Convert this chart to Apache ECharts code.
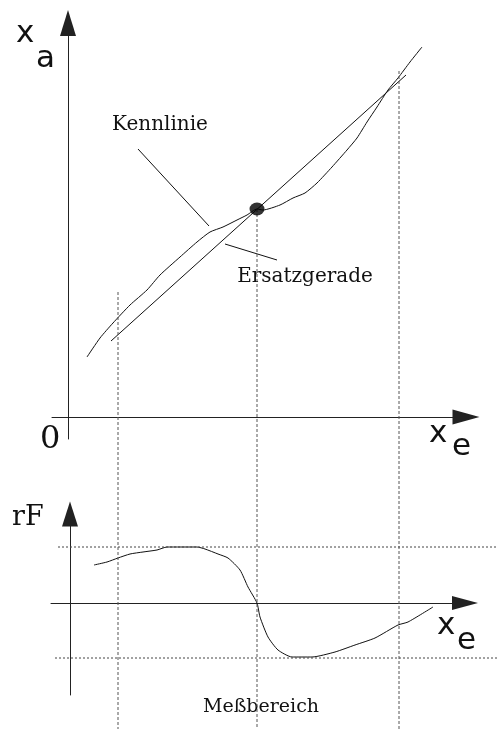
<!DOCTYPE html>
<html>
<head>
<meta charset="utf-8">
<script src="https://cdn.jsdelivr.net/npm/echarts@6/dist/echarts.min.js"></script>
<style>
  html, body { margin: 0; padding: 0; background: #ffffff; }
  #main { width: 498px; height: 729px; }
</style>
</head>
<body>
<div id="main"></div>
<script>
// Kennlinie x_a(x_e), oberes Diagramm
var kennX = [1.9, 3.2, 4.5, 6.2, 7.9, 9.2, 11.2, 12.9, 14.2, 15.5, 16.9, 17.9, 18.9, 19.5, 21.2, 22.5, 23.7, 24.9, 26.4, 27.9, 28.9, 29.9, 30.9, 32.0, 33.0, 34.2, 35.4];
var kennY = [6.0, 7.9, 9.4, 11.2, 12.7, 14.2, 16.0, 17.5, 18.5, 19.0, 19.7, 20.2, 20.8, 20.7, 21.2, 21.9, 22.4, 23.4, 25.0, 26.7, 27.9, 29.5, 31.0, 32.7, 33.9, 35.5, 37.0];
// Ersatzgerade
var geradeX = [4.3, 33.8];
var geradeY = [7.6, 34.2];
// Arbeitspunkt
var punktX = 18.9, punktY = 20.8;
// Messbereich (Grenzen + Arbeitspunkt)
var bereichX = [5.0, 18.9, 33.1];
var bereichOben = [12.5, 20.8, 34.6];
// relativer Fehler rF, unteres Diagramm
var rfX = [2.4, 3.7, 4.8, 6.0, 7.3, 8.7, 9.7, 12.7, 13.5, 14.8, 15.8, 17.0, 17.8, 18.7, 19.0, 19.8, 20.8, 22.2, 24.2, 26.5, 28.5, 30.5, 32.8, 33.8, 36.3];
var rfY = [3.8, 4.1, 4.5, 4.9, 5.1, 5.3, 5.6, 5.6, 5.4, 4.9, 4.5, 3.3, 1.6, 0, -1.4, -3.4, -4.7, -5.4, -5.4, -4.9, -4.2, -3.5, -2.2, -1.9, -0.4];
var rfGrenzen = [5.6, -5.5];
// Hilfslinien zu den Beschriftungen
var kennPfeil = [[7.0, 26.8], [14.1, 19.1]];
var geradePfeil = [[15.7, 17.3], [20.9, 15.7]];

function zip(xs, ys) {
  var out = [];
  for (var i = 0; i < xs.length; i++) {
    out.push([xs[i], ys[i]]);
  }
  return out;
}

var myChart = echarts.init(document.getElementById("main"));

var axisOn = function(min, max, idx, arrow) {
  return {
    type: "value",
    gridIndex: idx,
    min: min,
    max: max,
    axisLine: {
      show: true,
      onZero: true,
      symbol: ["none", "triangle"],
      symbolSize: arrow,
      lineStyle: { color: "#222", width: 1 }
    },
    axisTick: { show: false },
    axisLabel: { show: false },
    splitLine: { show: false }
  };
};
var axisOff = function(min, max, idx) {
  return {
    type: "value",
    gridIndex: idx,
    min: min,
    max: max,
    show: false,
    splitLine: { show: false }
  };
};

var vertikal = [];
for (var i = 0; i < bereichX.length; i++) {
  vertikal.push({
    type: "line",
    xAxisIndex: 2,
    yAxisIndex: 2,
    data: [[bereichX[i], bereichOben[i]], [bereichX[i], -31.2]],
    showSymbol: false,
    silent: true,
    lineStyle: { color: "#555", width: 1, type: [3, 2] }
  });
}

var font = "DejaVu Serif";
var option = {
  backgroundColor: "#ffffff",
  animation: false,
  grid: [
    { left: 52, right: 32, top: 23, bottom: 290, outerBoundsMode: "none" },
    { left: 51, right: 33, top: 514, bottom: 34, outerBoundsMode: "none" },
    { left: 0, right: 0, top: 0, bottom: 0, outerBoundsMode: "none" },
    { left: 0, right: 0, top: 514, bottom: 34, outerBoundsMode: "none" }
  ],
  xAxis: [
    axisOn(-1.6, 39.8, 0, [15, 27]),
    axisOn(-1.9, 39.5, 1, [14, 26]),
    axisOff(-6.8, 43.0, 2),
    axisOff(-7.0, 42.8, 3)
  ],
  yAxis: [
    axisOn(-2.2, 39.4, 0, [16, 26]),
    axisOn(-9.2, 8.9, 1, [16, 25]),
    axisOff(-31.2, 41.7, 2),
    axisOff(-9.2, 8.9, 3)
  ],
  graphic: [
    { type: "text", left: 16, top: 18, style: { text: "x", font: "31px DejaVu Sans", fill: "#111" } },
    { type: "text", left: 36, top: 43, style: { text: "a", font: "31px DejaVu Sans", fill: "#111" } },
    { type: "text", left: 40, top: 424, style: { text: "0", font: "32px " + font, fill: "#111" } },
    { type: "text", left: 429, top: 418, style: { text: "x", font: "31px DejaVu Sans", fill: "#111" } },
    { type: "text", left: 452, top: 431, style: { text: "e", font: "31px DejaVu Sans", fill: "#111" } },
    { type: "text", left: 12, top: 504, style: { text: "rF", font: "27px " + font, fill: "#111" } },
    { type: "text", left: 437, top: 610, style: { text: "x", font: "31px DejaVu Sans", fill: "#111" } },
    { type: "text", left: 457, top: 625, style: { text: "e", font: "31px DejaVu Sans", fill: "#111" } },
    { type: "text", x: 160, y: 125, style: { text: "Kennlinie", font: "20px " + font, fill: "#111", align: "center", verticalAlign: "middle" } },
    { type: "text", x: 305, y: 277, style: { text: "Ersatzgerade", font: "20px " + font, fill: "#111", align: "center", verticalAlign: "middle" } },
    { type: "text", x: 261, y: 707, style: { text: "Meßbereich", font: "19px " + font, fill: "#111", align: "center", verticalAlign: "middle" } }
  ],
  series: [
    {
      name: "Kennlinie",
      type: "line",
      xAxisIndex: 0,
      yAxisIndex: 0,
      data: zip(kennX, kennY),
      smooth: 0.2,
      showSymbol: false,
      lineStyle: { color: "#111", width: 1 }
    },
    {
      name: "Ersatzgerade",
      type: "line",
      xAxisIndex: 0,
      yAxisIndex: 0,
      data: zip(geradeX, geradeY),
      showSymbol: false,
      lineStyle: { color: "#111", width: 1 }
    },
    {
      type: "line",
      xAxisIndex: 0,
      yAxisIndex: 0,
      data: kennPfeil,
      showSymbol: false,
      lineStyle: { color: "#111", width: 1 }
    },
    {
      type: "line",
      xAxisIndex: 0,
      yAxisIndex: 0,
      data: geradePfeil,
      showSymbol: false,
      lineStyle: { color: "#111", width: 1 }
    },
    {
      name: "Arbeitspunkt",
      type: "scatter",
      xAxisIndex: 0,
      yAxisIndex: 0,
      data: [[punktX, punktY]],
      symbol: "circle",
      symbolSize: [15, 13],
      itemStyle: { color: "#000" },
      z: 5
    },
    {
      name: "rF",
      type: "line",
      xAxisIndex: 1,
      yAxisIndex: 1,
      data: zip(rfX, rfY),
      smooth: 0.2,
      showSymbol: false,
      lineStyle: { color: "#111", width: 1 }
    },
    {
      type: "line",
      xAxisIndex: 3,
      yAxisIndex: 3,
      data: [[-1.2, rfGrenzen[0]], [42.8, rfGrenzen[0]]],
      showSymbol: false,
      lineStyle: { color: "#444", width: 1, type: [2, 2] }
    },
    {
      type: "line",
      xAxisIndex: 3,
      yAxisIndex: 3,
      data: [[-1.5, rfGrenzen[1]], [42.8, rfGrenzen[1]]],
      showSymbol: false,
      lineStyle: { color: "#444", width: 1, type: [2, 2] }
    }
  ].concat(vertikal)
};
myChart.setOption(option);
</script>
</body>
</html>
